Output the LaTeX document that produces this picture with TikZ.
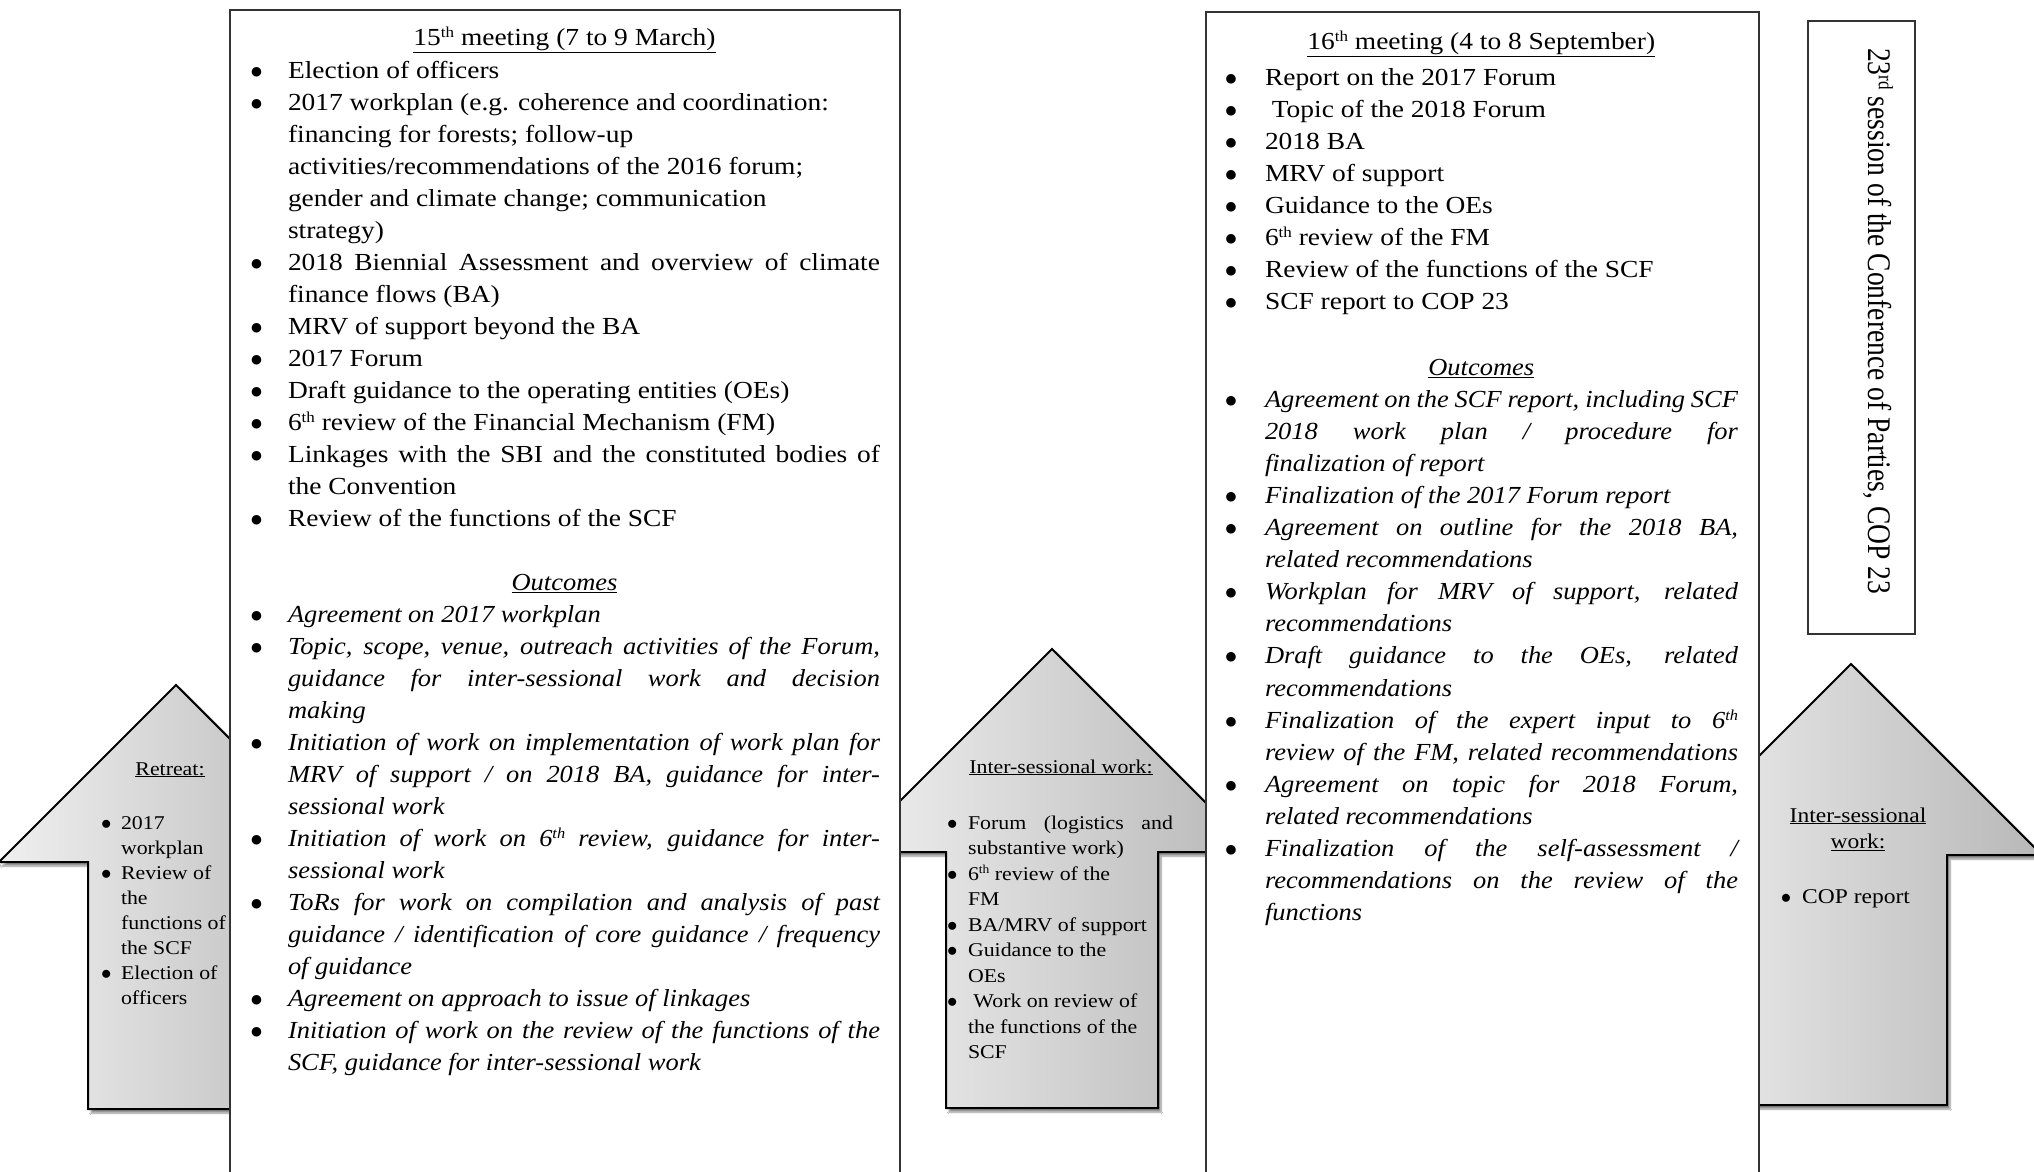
\documentclass[tikz,border=0pt]{standalone}
\usepackage{fontspec}
\usepackage{graphicx}
\setmainfont{Liberation Serif}[FakeStretch=1.12]
\newfontfamily\itfam{Liberation Serif}[FakeStretch=1.08]
\usetikzlibrary{shadows.blur}
\newcommand\fmainA{\fontsize{24.5}{32}\selectfont}
\newcommand\fitalA{\itfam\itshape\fontsize{24.5}{32}\selectfont}
\newcommand\fmainB{\fontsize{24.5}{32.1}\selectfont}
\newcommand\fitalB{\itfam\itshape\fontsize{24.5}{32.1}\selectfont}
\newcommand\fsmallL{\fontsize{19.5}{25.1}\selectfont}
\newcommand\fsmallM{\fontsize{19.5}{25.5}\selectfont}
\newcommand\fright{\fontsize{21}{26}\selectfont}
\newcommand\fcop{\fontsize{33}{36}\selectfont}
\newlength\bi \newlength\lw \newlength\bo
\newcommand\mybul{\hbox to \bi{\hskip\bo$\bullet$\hfil}}
\newcommand\mynob{\hbox to \bi{\hfil}}
\newcommand\lnj[1]{\hbox to \lw{#1}}
\newcommand\lnr[1]{\hbox to \lw{#1\hfil}}
\newcommand\lnc[1]{\hbox to \dimexpr\bi+\lw\relax{\hfil#1\hfil}}
\newcommand\sups[1]{\raisebox{0.33em}{\fontsize{0.62\dimexpr\fontdimen6\font\relax}{1em}\selectfont #1}}
\begin{document}
\begin{tikzpicture}[x=1pt,y=-1pt,
  arrowshape/.style={left color=black!6, right color=black!28, draw=black, line width=2pt, line join=miter,
    blur shadow={shadow xshift=3pt, shadow yshift=-4pt, shadow opacity=45, shadow blur steps=6}},
  panel/.style={fill=white, draw=black!80, line width=1.5pt},
  txt/.style={inner sep=0pt, outer sep=0pt, align=left, anchor=north west},
  lbl/.style={inner sep=0pt, outer sep=0pt, anchor=base}]
\useasboundingbox (0,0) rectangle (2034,1171);
\clip (0,0) rectangle (2034,1171);
\fill[white] (0,0) rectangle (2034,1171);
% arrows
\path[arrowshape] (176,685) -- (353,862) -- (264,862) -- (264,1109) -- (88,1109) -- (88,862) -- (-1,862) -- cycle;
\path[arrowshape] (1052,649) -- (1255,852) -- (1158,852) -- (1158,1108) -- (946,1108) -- (946,852) -- (849,852) -- cycle;
\path[arrowshape] (1851,664) -- (2042,855) -- (1947,855) -- (1947,1105) -- (1755,1105) -- (1755,855) -- (1660,855) -- cycle;
% panels
\draw[panel] (230,10) rectangle (900,1190);
\draw[panel] (1206,12) rectangle (1759,1190);
\draw[panel] (1808,21) rectangle (1915,634);
% box 1
\setlength\bi{39pt}\setlength\lw{592pt}\setlength\bo{1.4pt}
\node[txt, font=\fmainA] (b1a) at (249,19.7) {%
\lnc{\rule{0pt}{26pt}\underline{15\sups{th} meeting (7 to 9 March)}}\\[1pt]
\mybul\lnr{Election of officers}\\
\mybul\lnr{2017 workplan (e.g. coherence and coordination:}\\
\mynob\lnr{financing for forests; follow-up}\\
\mynob\lnr{activities/recommendations of the 2016 forum;}\\
\mynob\lnr{gender and climate change; communication}\\
\mynob\lnr{strategy)}\\
\mybul\lnj{2018 Biennial Assessment and overview of climate}\\
\mynob\lnr{finance flows (BA)}\\
\mybul\lnr{MRV of support beyond the BA}\\
\mybul\lnr{2017 Forum}\\
\mybul\lnr{Draft guidance to the operating entities (OEs)}\\
\mybul\lnr{6\sups{th} review of the Financial Mechanism (FM)}\\
\mybul\lnj{Linkages with the SBI and the constituted bodies of}\\
\mynob\lnr{the Convention}\\
\mybul\lnr{Review of the functions of the SCF}};
\node[txt, font=\fitalA] (b1b) at (249,564.6) {%
\lnc{\rule{0pt}{26pt}\underline{Outcomes}}\\
\mybul\lnr{Agreement on 2017 workplan}\\
\mybul\lnj{Topic, scope, venue, outreach activities of the Forum,}\\
\mynob\lnj{guidance for inter-sessional work and decision}\\
\mynob\lnr{making}\\
\mybul\lnj{Initiation of work on implementation of work plan for}\\
\mynob\lnj{MRV of support / on 2018 BA, guidance for inter-}\\
\mynob\lnr{sessional work}\\
\mybul\lnj{Initiation of work on 6\sups{th} review, guidance for inter-}\\
\mynob\lnr{sessional work}\\
\mybul\lnj{ToRs for work on compilation and analysis of past}\\
\mynob\lnj{guidance / identification of core guidance / frequency}\\
\mynob\lnr{of guidance}\\
\mybul\lnr{Agreement on approach to issue of linkages}\\
\mybul\lnj{Initiation of work on the review of the functions of the}\\
\mynob\lnr{SCF, guidance for inter-sessional work}};
% box 2
\setlength\bi{40.5pt}\setlength\lw{473pt}\setlength\bo{0.4pt}
\node[txt, font=\fmainB] (b2a) at (1224.5,23.3) {%
\lnc{\rule{0pt}{26pt}\underline{16\sups{th} meeting (4 to 8 September)}}\\[3.6pt]
\mybul\lnr{Report on the 2017 Forum}\\
\mybul\lnr{ Topic of the 2018 Forum}\\
\mybul\lnr{2018 BA}\\
\mybul\lnr{MRV of support}\\
\mybul\lnr{Guidance to the OEs}\\
\mybul\lnr{6\sups{th} review of the FM}\\
\mybul\lnr{Review of the functions of the SCF}\\
\mybul\lnr{SCF report to COP 23}};
\node[txt, font=\fitalB] (b2b) at (1224.5,349) {%
\lnc{\rule{0pt}{26pt}\underline{Outcomes}}\\
\mybul\lnj{Agreement on the SCF report, including SCF}\\
\mynob\lnj{2018 work plan / procedure for}\\
\mynob\lnr{finalization of report}\\
\mybul\lnr{Finalization of the 2017 Forum report}\\
\mybul\lnj{Agreement on outline for the 2018 BA,}\\
\mynob\lnr{related recommendations}\\
\mybul\lnj{Workplan for MRV of support, related}\\
\mynob\lnr{recommendations}\\
\mybul\lnj{Draft guidance to the OEs, related}\\
\mynob\lnr{recommendations}\\
\mybul\lnj{Finalization of the expert input to 6\sups{th}}\\
\mynob\lnj{review of the FM, related recommendations}\\
\mybul\lnj{Agreement on topic for 2018 Forum,}\\
\mynob\lnr{related recommendations}\\
\mybul\lnj{Finalization of the self-assessment /}\\
\mynob\lnj{recommendations on the review of the}\\
\mynob\lnr{functions}};
% left arrow text
\node[lbl, font=\fsmallL] (rt) at (170,775) {\underline{Retreat:}};
\setlength\bi{22pt}\setlength\lw{130pt}\setlength\bo{2.1pt}
\node[txt, font=\fsmallL] (rl) at (99,809) {%
\mybul\lnr{\rule{0pt}{20pt}2017}\\
\mynob\lnr{workplan}\\
\mybul\lnr{Review of}\\
\mynob\lnr{the}\\
\mynob\lnr{functions of}\\
\mynob\lnr{the SCF}\\
\mybul\lnr{Election of}\\
\mynob\lnr{officers}};
% middle arrow text
\node[lbl, font=\fsmallM] (it) at (1061,773) {\underline{Inter-sessional work:}};
\setlength\bi{23pt}\setlength\lw{205pt}\setlength\bo{2.1pt}
\node[txt, font=\fsmallM] (il) at (945,809) {%
\mybul\lnj{\rule{0pt}{20pt}Forum (logistics and}\\
\mynob\lnr{substantive work)}\\
\mybul\lnr{6\sups{th} review of the}\\
\mynob\lnr{FM}\\
\mybul\lnr{BA/MRV of support}\\
\mybul\lnr{Guidance to the}\\
\mynob\lnr{OEs}\\
\mybul\lnr{ Work on review of}\\
\mynob\lnr{the functions of the}\\
\mynob\lnr{SCF}};
% right arrow text
\node[lbl, font=\fright] (r1) at (1858,822) {\underline{Inter-sessional}};
\node[lbl, font=\fright] (r2) at (1858,848) {\underline{work:}};
\setlength\bi{22pt}\setlength\bo{0.75pt}
\node[inner sep=0pt, anchor=base west, font=\fright] (r3) at (1780,903) {\mybul COP report};
% COP box text
\node[rotate=-90, anchor=base west, inner sep=0pt, font=\fcop] (cop) at (1868,48) {\resizebox{546pt}{\height}{23\sups{rd} session of the Conference of Parties, COP 23}};
\end{tikzpicture}
\end{document}
